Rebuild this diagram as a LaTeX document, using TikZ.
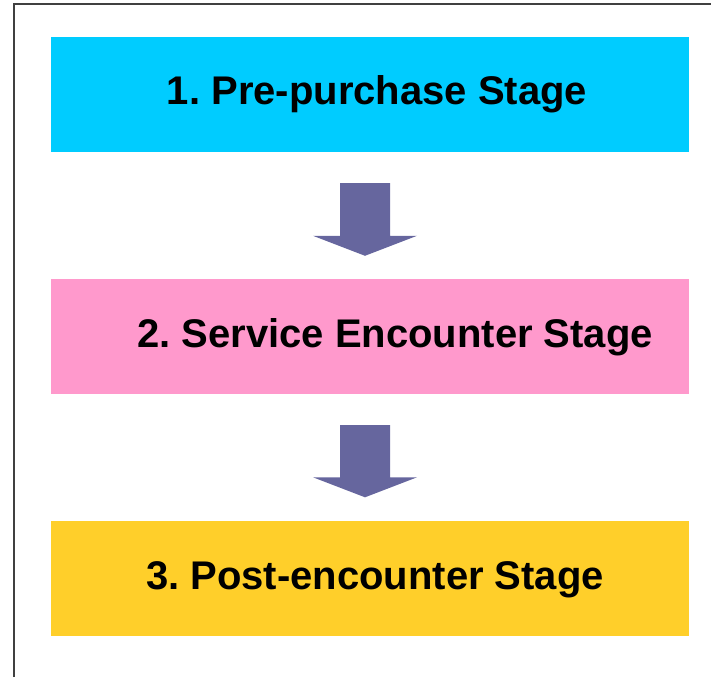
\documentclass[tikz,border=0pt]{standalone}
\usepackage{fontspec}
\setmainfont{Liberation Sans}
\frenchspacing
\definecolor{stageblue}{HTML}{00CCFF}
\definecolor{stagepink}{HTML}{FF99CC}
\definecolor{stageyellow}{HTML}{FFCF2A}
\definecolor{flowarrow}{HTML}{66669E}
\definecolor{framegray}{HTML}{404040}
\begin{document}
\begin{tikzpicture}[x=1pt,y=-1pt,
  stagebox/.style={minimum width=638pt,minimum height=115pt,inner sep=0pt,draw=none},
  stagetext/.style={font=\bfseries\fontsize{40}{48}\selectfont,text=black,inner sep=0pt},
  blockarrow/.style={fill=flowarrow,draw=none}]
  \useasboundingbox (0,0) rectangle (711,677);
  % outer frame (only its top and left edges lie on the page)
  \draw[framegray,line width=2pt] (14,677) -- (14,4) -- (711,4);
  % stage boxes
  \node[stagebox,fill=stageblue]   (s1) at (370,94.5) {};
  \node[stagebox,fill=stagepink]   (s2) at (370,336.5) {};
  \node[stagebox,fill=stageyellow] (s3) at (370,578) {};
  % stage labels
  \node[stagetext] (t1) at (377,94) {1. Pre-purchase Stage};
  \node[stagetext] (t2) at (395,337) {2. Service Encounter Stage};
  \node[stagetext] (t3) at (375,580) {3. Post-encounter Stage};
  % block arrows between stages
  \foreach \a/\b in {s1/s2,s2/s3}{
    \path (\a.south) ++(-5,0) coordinate (top) (\b.north) ++(-5,0) coordinate (bot);
    \fill[blockarrow] ([xshift=-25pt,yshift=-31pt]top)
      -- ([xshift=25pt,yshift=-31pt]top)
      -- ([xshift=25pt,yshift=43pt]bot)
      -- ([xshift=52pt,yshift=43pt]bot)
      -- ([yshift=23pt]bot)
      -- ([xshift=-52pt,yshift=43pt]bot)
      -- ([xshift=-25pt,yshift=43pt]bot) -- cycle;
  }
\end{tikzpicture}
\end{document}
